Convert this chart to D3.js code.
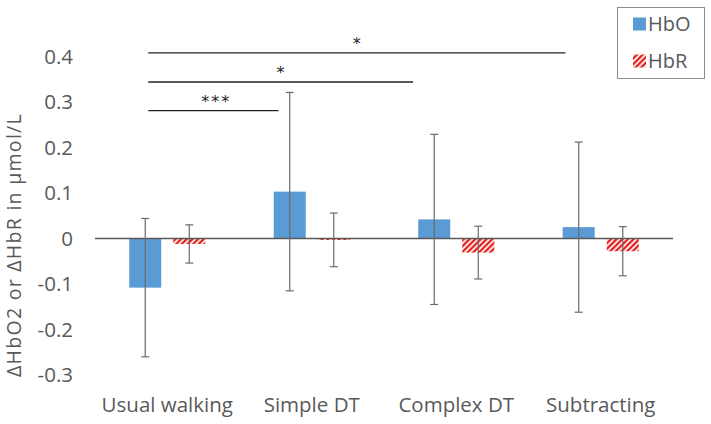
<!DOCTYPE html>
<html><head><meta charset="utf-8">
<script src="https://cdn.jsdelivr.net/npm/d3@7"></script>
<style>body{margin:0;background:#fff}svg{display:block}</style>
</head><body>
<script>
const categories = ["Usual walking", "Simple DT", "Complex DT", "Subtracting"];
const seriesNames = ["HbO", "HbR"];
const hboValues = [-0.108, 0.103, 0.042, 0.025];
const hboErrors = [0.152, 0.218, 0.187, 0.187];
const hbrValues = [-0.012, -0.003, -0.031, -0.028];
const hbrErrors = [0.042, 0.059, 0.058, 0.054];
const yTicks = [-0.3, -0.2, -0.1, 0, 0.1, 0.2, 0.3, 0.4];
const yTickLabels = ["-0.3", "-0.2", "-0.1", "0", "0.1", "0.2", "0.3", "0.4"];
// significance brackets: from category, to category, level (data units), label
const sigFrom = ["Usual walking", "Usual walking", "Usual walking"];
const sigTo = ["Subtracting", "Complex DT", "Simple DT"];
const sigLevel = [0.408, 0.344, 0.281];
const sigLabel = ["*", "*", "***"];

const W = 711, H = 424;
const svg = d3.select("body").append("svg").attr("width", W).attr("height", H);
const defs = svg.append("defs");
const pat = defs.append("pattern").attr("id", "hatch").attr("patternUnits", "userSpaceOnUse")
  .attr("width", 4).attr("height", 4).attr("patternTransform", "rotate(45)");
pat.append("rect").attr("width", 4).attr("height", 4).attr("fill", "#fff");
pat.append("rect").attr("width", 2.3).attr("height", 4).attr("fill", "#e3201b");

const x = d3.scaleBand().domain(categories).range([95, 673]).paddingInner(0).paddingOuter(0);
const y = d3.scaleLinear().domain([-0.3, 0.4]).range([375, 56.5]);
const sub = d3.scaleBand().domain(seriesNames).range([0, x.bandwidth()]).paddingInner(0.12).paddingOuter(0.7);
const barW = 32;
const font = "Open Sans, Noto Sans, sans-serif";

// Y axis labels (no line)
const yAxis = d3.axisLeft(y).tickValues(yTicks).tickFormat((d, i) => yTickLabels[i]).tickSize(0).tickPadding(0);
const gy = svg.append("g").attr("transform", "translate(73,0)").call(yAxis);
gy.select(".domain").remove();
gy.selectAll("text").attr("font-family", font).attr("font-size", 20.5).attr("fill", "#595959");

// Y title (spread to span ~264px like the reference)
const yt = svg.append("text").attr("transform", `translate(21,245) rotate(-90)`)
  .attr("text-anchor", "middle").attr("font-family", font).attr("font-size", 19.5).attr("fill", "#595959")
  .text("ΔHbO2 or ΔHbR in µmol/L");
const len = yt.node().getComputedTextLength();
const nChars = "ΔHbO2 or ΔHbR in µmol/L".length;
if (len > 0 && len < 264) yt.attr("letter-spacing", (264 - len) / nChars);

const data = categories.map((c, i) => ({ c, hbo: hboValues[i], hboE: hboErrors[i], hbr: hbrValues[i], hbrE: hbrErrors[i] }));
const cx = (c, s) => x(c) + sub(s) + sub.bandwidth() / 2;

// bars
svg.append("g").selectAll("rect").data(data).join("rect")
  .attr("x", d => cx(d.c, "HbO") - barW / 2).attr("width", barW)
  .attr("y", d => y(Math.max(0, d.hbo))).attr("height", d => Math.abs(y(d.hbo) - y(0)))
  .attr("fill", "#5b9bd5");
svg.append("g").selectAll("rect").data(data).join("rect")
  .attr("x", d => cx(d.c, "HbR") - barW / 2).attr("width", barW)
  .attr("y", d => y(Math.max(0, d.hbr))).attr("height", d => Math.max(1.5, Math.abs(y(d.hbr) - y(0))))
  .attr("fill", "url(#hatch)");

// zero axis line
svg.append("line").attr("x1", x.range()[0]).attr("x2", x.range()[1]).attr("y1", y(0)).attr("y2", y(0))
  .attr("stroke", "#595959").attr("stroke-width", 1.5);

// error bars
const eb = [];
data.forEach(d => {
  eb.push({ x: cx(d.c, "HbO"), v: d.hbo, e: d.hboE });
  eb.push({ x: cx(d.c, "HbR"), v: d.hbr, e: d.hbrE });
});
const eg = svg.append("g").attr("stroke", "#6b6b6b").attr("stroke-width", 1.2);
eb.forEach(b => {
  eg.append("line").attr("x1", b.x).attr("x2", b.x).attr("y1", y(b.v + b.e)).attr("y2", y(b.v - b.e));
  eg.append("line").attr("x1", b.x - 4).attr("x2", b.x + 4).attr("y1", y(b.v + b.e)).attr("y2", y(b.v + b.e));
  eg.append("line").attr("x1", b.x - 4).attr("x2", b.x + 4).attr("y1", y(b.v - b.e)).attr("y2", y(b.v - b.e));
});

// category labels
svg.append("g").selectAll("text").data(categories).join("text")
  .attr("x", d => x(d) + x.bandwidth() / 2).attr("y", 412).attr("text-anchor", "middle")
  .attr("font-family", font).attr("font-size", 20.5).attr("fill", "#595959").text(d => d);

// significance lines
const sg = svg.append("g");
sigLevel.forEach((lv, i) => {
  const x1 = cx(sigFrom[i], "HbO") + 3;
  const x2 = x(sigTo[i]) + (sigTo[i] === "Simple DT" ? 39 : sigTo[i] === "Complex DT" ? 29 : 37);
  sg.append("line").attr("x1", x1).attr("x2", x2).attr("y1", y(lv)).attr("y2", y(lv))
    .attr("stroke", "#222").attr("stroke-width", 1.4);
  sg.append("text").attr("x", (x1 + x2) / 2 + (i === 2 ? 3 : 0)).attr("y", y(lv) - 4).attr("text-anchor", "middle")
    .attr("font-family", "DejaVu Sans, sans-serif").attr("font-size", 16).attr("fill", "#222")
    .attr("letter-spacing", i === 2 ? 2 : 0).text(sigLabel[i]);
});

// legend
const lg = svg.append("g");
lg.append("rect").attr("x", 617.5).attr("y", 7.5).attr("width", 87).attr("height", 71)
  .attr("fill", "#fff").attr("stroke", "#8c8c8c").attr("stroke-width", 1);
seriesNames.forEach((s, i) => {
  const yy = 24 + i * 37;
  lg.append("rect").attr("x", 633).attr("y", yy - 6.5).attr("width", 13).attr("height", 13)
    .attr("fill", i === 0 ? "#5b9bd5" : "url(#hatch)");
  lg.append("text").attr("x", 648).attr("y", yy + 7).attr("font-family", font).attr("font-size", 20)
    .attr("fill", "#595959").text(s);
});
</script>
</body></html>
